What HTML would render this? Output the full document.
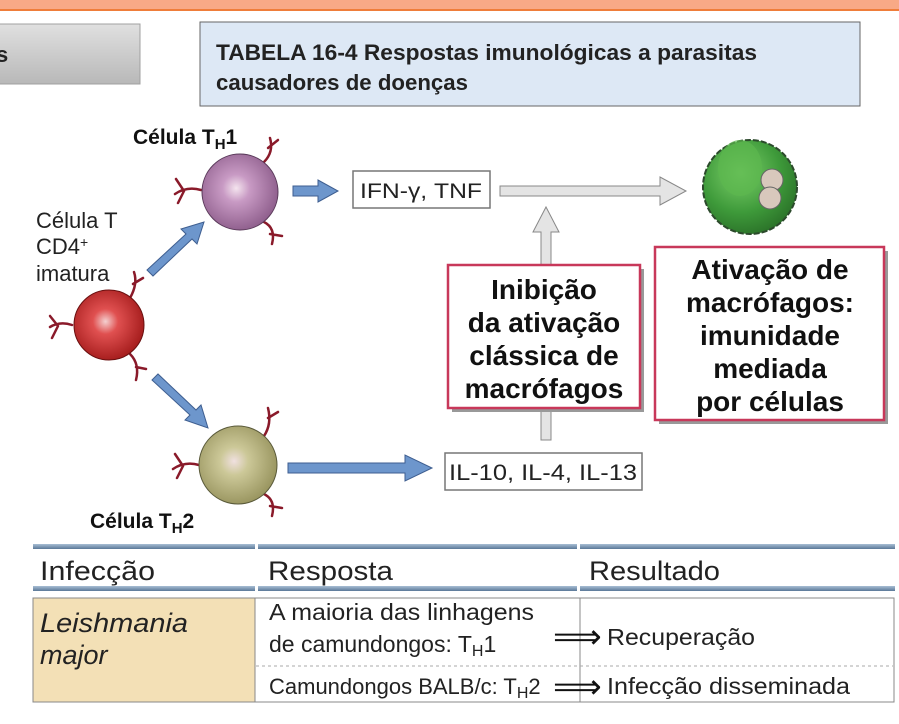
<!DOCTYPE html>
<html><head><meta charset="utf-8"><style>
body{margin:0;background:#fff;width:899px;height:724px;overflow:hidden;font-family:"Liberation Sans",sans-serif}
svg{display:block}
</style></head><body>
<svg width="899" height="724" viewBox="0 0 899 724" xmlns="http://www.w3.org/2000/svg" font-family="Liberation Sans, sans-serif">
<defs>
<radialGradient id="gRed" cx="0.45" cy="0.45" r="0.6"><stop offset="0" stop-color="#f4d0d0"/><stop offset="0.3" stop-color="#e05050"/><stop offset="1" stop-color="#a01818"/></radialGradient>
<radialGradient id="gPur" cx="0.45" cy="0.45" r="0.6"><stop offset="0" stop-color="#f4e4ee"/><stop offset="0.3" stop-color="#c89ac4"/><stop offset="1" stop-color="#8a5a88"/></radialGradient>
<radialGradient id="gOl" cx="0.45" cy="0.45" r="0.6"><stop offset="0" stop-color="#f0e0e0"/><stop offset="0.3" stop-color="#ccc898"/><stop offset="1" stop-color="#94905a"/></radialGradient>
<radialGradient id="gGr" cx="0.4" cy="0.35" r="0.7"><stop offset="0" stop-color="#7ccf6a"/><stop offset="0.6" stop-color="#3e9a3a"/><stop offset="1" stop-color="#2a7028"/></radialGradient>
<linearGradient id="gBar" x1="0" y1="0" x2="0" y2="1"><stop offset="0" stop-color="#a8bed4"/><stop offset="1" stop-color="#5a7898"/></linearGradient>
<linearGradient id="gGray" x1="0" y1="0" x2="0" y2="1"><stop offset="0" stop-color="#e0e0e0"/><stop offset="1" stop-color="#b8b8b8"/></linearGradient>
</defs>
<rect x="0" y="0" width="899" height="10" fill="#f8a986"/>
<rect x="0" y="9" width="899" height="2" fill="#ef7d3a"/>
<rect x="-2" y="24" width="142" height="60" fill="url(#gGray)" stroke="#a0a0a0"/>
<text x="-4" y="62" font-size="22" font-weight="bold" fill="#222">s</text>
<rect x="200" y="22" width="660" height="84" fill="#dde8f5" stroke="#666"/>
<text x="216" y="60" font-size="22" font-weight="bold" fill="#222" textLength="541" lengthAdjust="spacingAndGlyphs">TABELA 16-4    Respostas imunológicas a parasitas</text>
<text x="216" y="90" font-size="22" font-weight="bold" fill="#222" textLength="252" lengthAdjust="spacingAndGlyphs">causadores de doenças</text>

<g stroke="#8a1a2a" stroke-width="2.5" fill="none" stroke-linecap="round">
<path d="M72 325 q-12 -4 -22 2 M58 326 l-8 -10 M58 326 l-6 12"/>
<path d="M130 298 q8 -14 4 -26 M133 284 l10 -6"/>
<path d="M130 354 q10 10 6 26 M136 367 l10 2"/>
<path d="M201 190 q-14 -4 -26 4 M184 191 l-8 -12 M184 191 l-6 12"/>
<path d="M264 162 q10 -10 6 -24 M268 148 l10 -8"/>
<path d="M264 222 q12 6 8 22 M270 234 l12 2"/>
<path d="M199 465 q-14 -4 -26 4 M183 466 l-8 -12 M183 466 l-6 12"/>
<path d="M264 436 q8 -12 4 -28 M268 418 l10 -6"/>
<path d="M264 494 q12 6 8 22 M270 506 l12 2"/>
</g>
<circle cx="109" cy="325" r="35" fill="url(#gRed)" stroke="#6a1010"/>
<circle cx="240" cy="192" r="38" fill="url(#gPur)" stroke="#5a3a5a"/>
<circle cx="238" cy="465" r="39" fill="url(#gOl)" stroke="#5a5a3a"/>
<text x="133" y="144" font-size="21" font-weight="bold" fill="#111">Célula T<tspan font-size="15" dy="5">H</tspan><tspan dy="-5">1</tspan></text>
<text x="90" y="528" font-size="21" font-weight="bold" fill="#111">Célula T<tspan font-size="15" dy="5">H</tspan><tspan dy="-5">2</tspan></text>
<text font-size="22" fill="#222"><tspan x="36" y="228">Célula T</tspan><tspan x="36" y="254">CD4<tspan font-size="14" dy="-7">+</tspan></tspan><tspan x="36" y="281">imatura</tspan></text>

<g fill="#6d96cc" stroke="#3e5e90" stroke-width="1">
<polygon points="147,270 186,234 181,229 204,222 197,244 192,239 153,276"/>
<polygon points="152,380 190,415 185,420 208,428 201,405 196,410 158,374"/>
<polygon points="293,186 318,186 318,180 338,191 318,202 318,196 293,196"/>
<polygon points="288,463 405,463 405,455 432,468 405,481 405,473 288,473"/>
</g>
<rect x="353" y="171" width="137" height="37" fill="#fff" stroke="#777" stroke-width="1.5"/>
<text x="421" y="198" font-size="21" fill="#222" text-anchor="middle" textLength="122" lengthAdjust="spacingAndGlyphs">IFN-γ, TNF</text>
<rect x="445" y="453" width="197" height="37" fill="#fff" stroke="#777" stroke-width="1.5"/>
<text x="543" y="480" font-size="22" fill="#222" text-anchor="middle" textLength="188" lengthAdjust="spacingAndGlyphs">IL-10, IL-4, IL-13</text>
<polygon points="500,186 660,186 660,177 686,191 660,205 660,196 500,196" fill="#e4e4e4" stroke="#888"/>
<polygon points="541,440 541,232 533,232 546,207 559,232 551,232 551,440" fill="#e4e4e4" stroke="#888"/>
<g>
<circle cx="750" cy="187" r="47" fill="url(#gGr)" stroke="#2c4a2c" stroke-width="2" stroke-dasharray="6 2"/>
<ellipse cx="740" cy="168" rx="22" ry="28" fill="#5cb84e" opacity="0.7"/>
<circle cx="772" cy="180" r="11" fill="#d8c8bc" stroke="#666"/>
<circle cx="770" cy="198" r="11" fill="#d8c8bc" stroke="#666"/>
</g>
<rect x="452" y="269" width="192" height="143" fill="#999"/>
<rect x="448" y="265" width="192" height="143" fill="#fff" stroke="#c8385a" stroke-width="2.5"/>
<text font-size="28" font-weight="bold" fill="#111" text-anchor="middle"><tspan x="544" y="299">Inibição</tspan><tspan x="544" y="332">da ativação</tspan><tspan x="544" y="365">clássica de</tspan><tspan x="544" y="398">macrófagos</tspan></text>
<rect x="659" y="251" width="229" height="173" fill="#999"/>
<rect x="655" y="247" width="229" height="173" fill="#fff" stroke="#c8385a" stroke-width="2.5"/>
<text font-size="28" font-weight="bold" fill="#111" text-anchor="middle"><tspan x="770" y="279">Ativação de</tspan><tspan x="770" y="312">macrófagos:</tspan><tspan x="770" y="345">imunidade</tspan><tspan x="770" y="378">mediada</tspan><tspan x="770" y="411">por células</tspan></text>

<g>
<rect x="33" y="544" width="222" height="5" fill="url(#gBar)"/><rect x="258" y="544" width="319" height="5" fill="url(#gBar)"/><rect x="580" y="544" width="315" height="5" fill="url(#gBar)"/>
<rect x="33" y="586" width="222" height="5" fill="url(#gBar)"/><rect x="258" y="586" width="319" height="5" fill="url(#gBar)"/><rect x="580" y="586" width="315" height="5" fill="url(#gBar)"/>
<text x="40" y="580" font-size="27" fill="#222" textLength="115" lengthAdjust="spacingAndGlyphs">Infecção</text>
<text x="268" y="580" font-size="27" fill="#222" textLength="125" lengthAdjust="spacingAndGlyphs">Resposta</text>
<text x="589" y="580" font-size="27" fill="#222" textLength="131" lengthAdjust="spacingAndGlyphs">Resultado</text>
<rect x="33" y="598" width="222" height="104" fill="#f3e0b6" stroke="#888"/>
<rect x="255" y="598" width="325" height="104" fill="#fff" stroke="#888"/>
<rect x="580" y="598" width="314" height="104" fill="#fff" stroke="#888"/>
<line x1="256" y1="666" x2="893" y2="666" stroke="#aaa" stroke-dasharray="3 3"/>
<text font-size="27" font-style="italic" fill="#222"><tspan x="40" y="632" textLength="148" lengthAdjust="spacingAndGlyphs">Leishmania</tspan><tspan x="40" y="664">major</tspan></text>
<text x="269" y="620" font-size="23" fill="#222" textLength="265" lengthAdjust="spacingAndGlyphs">A maioria das linhagens</text>
<text x="269" y="652" font-size="23" fill="#222">de camundongos: T<tspan font-size="16" dy="4">H</tspan><tspan dy="-4">1</tspan></text>
<text x="269" y="694" font-size="22" fill="#222">Camundongos BALB/c: T<tspan font-size="16" dy="4">H</tspan><tspan dy="-4">2</tspan></text>
<text x="553" y="648" font-size="34" fill="#111">⟹</text>
<text x="553" y="698" font-size="34" fill="#111">⟹</text>
<text x="607" y="645" font-size="23" fill="#222" textLength="148" lengthAdjust="spacingAndGlyphs">Recuperação</text>
<text x="607" y="694" font-size="23" fill="#222" textLength="243" lengthAdjust="spacingAndGlyphs">Infecção disseminada</text>
</g>
</svg>
</body></html>
